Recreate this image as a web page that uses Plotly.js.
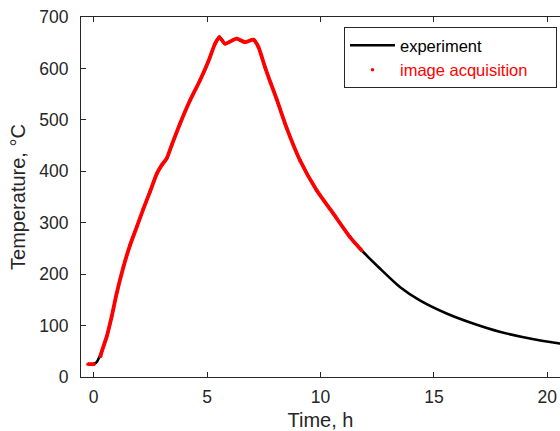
<!DOCTYPE html>
<html>
<head>
<meta charset="utf-8">
<script src="https://cdn.plot.ly/plotly-3.0.1.min.js"></script>
<style>html,body{margin:0;padding:0;background:#fff;}#chart{width:560px;height:431px;}</style>
</head>
<body>
<div id="chart"></div>
<script>
// Experiment (thermocouple) curve
var expTime = [-0.1, 0.13, 0.35, 0.57, 0.79, 1.01, 1.31, 1.6, 1.9, 2.19, 2.48, 2.78, 3.0, 3.22, 3.44, 3.81, 4.25, 4.69, 5.05, 5.35, 5.54, 5.79, 6.3, 6.67, 7.04, 7.26, 7.55, 7.8, 8.07, 8.51, 9.1, 9.83, 10.56, 11.3, 11.82, 12.62, 13.5, 14.38, 15.56, 16.73, 17.9, 19.23, 20.55, 21.0];
var expTemp = [23, 29, 49, 78, 117, 162, 214, 256, 292, 327, 360, 395, 412, 425, 451, 493, 538, 577, 613, 648, 661, 648, 658, 651, 656, 642, 603, 572, 540, 484, 421, 363, 318, 272, 246, 211, 175, 149, 123.5, 104, 88, 75, 65, 62];

// Image acquisition samples (null = gap in acquisition)
var imgTime = [-0.25, -0.12, 0.02, null, 0.3, 0.35, 0.57, 0.79, 1.01, 1.31, 1.6, 1.9, 2.19, 2.48, 2.78, 3.0, 3.22, 3.44, 3.81, 4.25, 4.69, 5.05, 5.35, 5.54, 5.79, 6.3, 6.67, 7.04, 7.26, 7.55, 7.8, 8.07, 8.51, 9.1, 9.83, 10.56, 11.3, 11.82];
var imgTemp = [25, 25, 25, null, 40, 49, 78, 117, 162, 214, 256, 292, 327, 360, 395, 412, 425, 451, 493, 538, 577, 613, 648, 661, 648, 658, 651, 656, 642, 603, 572, 540, 484, 421, 363, 318, 272, 246];

var xTicks = [0, 5, 10, 15, 20];
var yTicks = [0, 100, 200, 300, 400, 500, 600, 700];

var axisColor = '#262626';
var fontFam = '"Liberation Sans", Arial, Helvetica, sans-serif';
var pad = '\u00a0\u00a0\u00a0\u00a0\u00a0';

var traces = [
  {x: expTime, y: expTemp, type: 'scatter', mode: 'lines', name: 'experiment',
   line: {color: '#000000', width: 2.6, shape: 'spline', smoothing: 0.6}, showlegend: true},
  {x: imgTime, y: imgTemp, type: 'scatter', mode: 'lines', name: 'image acquisition',
   line: {color: '#ff0000', width: 3.8, shape: 'spline', smoothing: 0.6}, showlegend: false, connectgaps: false, hoverinfo: 'skip'},
  {x: imgTime, y: imgTemp, type: 'scatter', mode: 'markers',
   name: '<span style="color:#ff0000">image acquisition</span>' + pad,
   marker: {color: '#ff0000', size: 3.5}, showlegend: true}
];

var layout = {
  width: 560, height: 431,
  margin: {l: 81, r: 0, t: 17, b: 54, pad: 0},
  paper_bgcolor: '#ffffff', plot_bgcolor: '#ffffff',
  font: {family: fontFam, size: 17, color: axisColor},
  showlegend: true,
  legend: {
    x: 0.9937, xanchor: 'right', y: 0.972, yanchor: 'top',
    bgcolor: '#ffffff', bordercolor: axisColor, borderwidth: 1,
    font: {family: fontFam, size: 16.5, color: '#000000'},
    tracegroupgap: 0, itemwidth: 45
  },
  xaxis: {
    range: [-0.56, 20.56], tickvals: xTicks, ticktext: xTicks.map(String),
    ticks: 'inside', ticklen: 5, tickwidth: 1, tickcolor: axisColor,
    showline: true, linecolor: axisColor, linewidth: 1, mirror: 'ticks',
    showgrid: false, zeroline: false, ticklabelstandoff: 4,
    tickfont: {size: 17.5, color: axisColor},
    title: {text: 'Time, h', font: {size: 20, color: axisColor}, standoff: 6}
  },
  yaxis: {
    range: [0, 700], tickvals: yTicks, ticktext: yTicks.map(String),
    ticks: 'inside', ticklen: 5, tickwidth: 1, tickcolor: axisColor,
    showline: true, linecolor: axisColor, linewidth: 1, mirror: false,
    showgrid: false, zeroline: false, ticklabelstandoff: 8,
    tickfont: {size: 17.5, color: axisColor},
    title: {text: 'Temperature, °C', font: {size: 20, color: axisColor}, standoff: 8}
  }
};

Plotly.newPlot('chart', traces, layout, {displayModeBar: false, staticPlot: true});
</script>
</body>
</html>
